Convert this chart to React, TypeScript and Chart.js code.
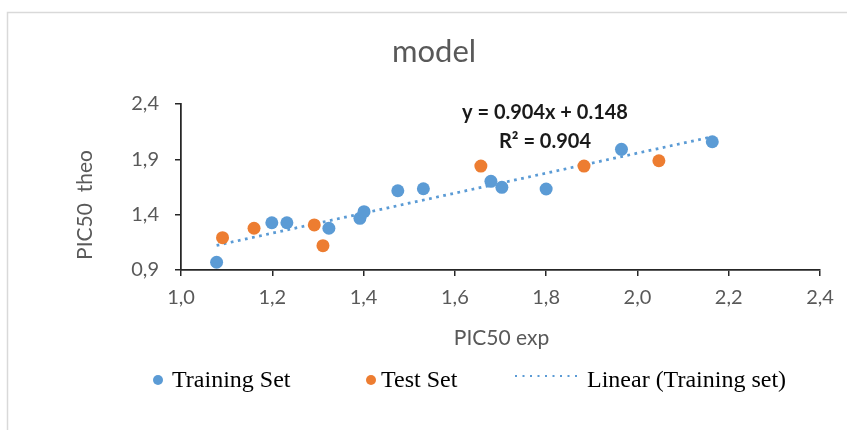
import React, { useEffect, useRef } from 'react';
import { Chart, registerables } from 'chart.js';

Chart.register(...registerables);

// ---- data ----
const chartTitle = 'model';
const xAxisTitle = 'PIC50 exp';
const yAxisTitle = 'PIC50  theo';

const trainingX = [1.078, 1.199, 1.232, 1.324, 1.392, 1.401, 1.475, 1.531, 1.679, 1.703, 1.8, 1.965, 2.164];
const trainingY = [0.97, 1.327, 1.327, 1.277, 1.367, 1.427, 1.616, 1.634, 1.701, 1.647, 1.632, 1.99, 2.059];

const testX = [1.091, 1.16, 1.292, 1.311, 1.657, 1.883, 2.047];
const testY = [1.192, 1.277, 1.307, 1.12, 1.839, 1.839, 1.887];

const trendSlope = [0.904];
const trendIntercept = [0.148];
const equationLines = ['y = 0.904x + 0.148', 'R² = 0.904'];

const xTicks = [1.0, 1.2, 1.4, 1.6, 1.8, 2.0, 2.2, 2.4];
const yTicks = [0.9, 1.4, 1.9, 2.4];

const legendLabels = ['Training Set', 'Test Set', 'Linear (Training set)'];

// ---- styles ----
const BLUE = '#5B9BD5';
const ORANGE = '#ED7D31';
const GRAY_TEXT = '#595959';
const AXIS = '#262626';
const W = 847;
const H = 430;

const fmt = (v: number) => v.toFixed(1).replace('.', ',');

const overlay = {
  id: 'overlay',
  beforeDraw(chart: any) {
    const ctx = chart.ctx;
    ctx.save();
    ctx.fillStyle = '#ffffff';
    ctx.fillRect(0, 0, W, H);
    ctx.strokeStyle = '#d9d9d9';
    ctx.lineWidth = 1.5;
    ctx.beginPath();
    ctx.moveTo(7.5, H);
    ctx.lineTo(7.5, 12.5);
    ctx.lineTo(W, 12.5);
    ctx.stroke();
    ctx.restore();
  },
  afterDraw(chart: any) {
    const ctx = chart.ctx;
    const area = chart.chartArea;
    ctx.save();
    // title
    ctx.fillStyle = GRAY_TEXT;
    ctx.textAlign = 'center';
    ctx.textBaseline = 'middle';
    ctx.font = '31px Lato';
    ctx.fillText(chartTitle, 434, 52);

    // axis titles
    ctx.font = '21px Lato';
    ctx.fillText(xAxisTitle, (area.left + area.right) / 2 + 1, area.bottom + 68);
    ctx.save();
    ctx.translate(85, 205);
    ctx.rotate(-Math.PI / 2);
    ctx.fillText(yAxisTitle, 0, 0);
    ctx.restore();

    // equation
    ctx.fillStyle = '#1a1a1a';
    ctx.font = 'bold 20px Lato';
    ctx.fillText(equationLines[0], 545, 113);
    ctx.fillText(equationLines[1], 545, 142);

    // legend
    const ly = 380;
    ctx.font = '24px "Liberation Serif"';
    ctx.textAlign = 'left';
    ctx.textBaseline = 'alphabetic';
    ctx.fillStyle = BLUE;
    ctx.beginPath();
    ctx.arc(158, ly, 5, 0, Math.PI * 2);
    ctx.fill();
    ctx.fillStyle = '#000000';
    ctx.fillText(legendLabels[0], 172, ly + 7);

    ctx.fillStyle = ORANGE;
    ctx.beginPath();
    ctx.arc(371, ly, 5, 0, Math.PI * 2);
    ctx.fill();
    ctx.fillStyle = '#000000';
    ctx.fillText(legendLabels[1], 381, ly + 7);

    ctx.strokeStyle = BLUE;
    ctx.lineWidth = 2;
    ctx.setLineDash([2, 5.5]);
    ctx.beginPath();
    ctx.moveTo(515, ly - 4);
    ctx.lineTo(580, ly - 4);
    ctx.stroke();
    ctx.setLineDash([]);
    ctx.fillStyle = '#000000';
    ctx.fillText(legendLabels[2], 587, ly + 7);
    ctx.restore();
  },
};

export default function App() {
  const ref = useRef<HTMLCanvasElement | null>(null);

  useEffect(() => {
    document.body.style.margin = '0';
    const canvas = ref.current;
    if (!canvas) return;

    const trendXs = [Math.min(...trainingX), Math.max(...trainingX)];
    const trendData = trendXs.map((x) => ({ x, y: trendSlope[0] * x + trendIntercept[0] }));

    const chart = new Chart(canvas, {
      type: 'scatter',
      data: {
        datasets: [
          {
            label: 'Linear (Training set)',
            type: 'line',
            data: trendData,
            borderColor: BLUE,
            borderWidth: 2.75,
            borderDash: [2.75, 4.5],
            pointRadius: 0,
            fill: false,
            order: 3,
          } as any,
          {
            label: 'Training Set',
            data: trainingX.map((x, i) => ({ x, y: trainingY[i] })),
            backgroundColor: BLUE,
            borderWidth: 0,
            pointRadius: 6.5,
            order: 2,
          },
          {
            label: 'Test Set',
            data: testX.map((x, i) => ({ x, y: testY[i] })),
            backgroundColor: ORANGE,
            borderWidth: 0,
            pointRadius: 6.5,
            order: 1,
          },
        ],
      },
      options: {
        animation: false,
        responsive: false,
        devicePixelRatio: 1,
        layout: { padding: { top: 104, right: 27, left: 0, bottom: 0 } },
        plugins: {
          legend: { display: false },
          title: { display: false },
          tooltip: { enabled: false },
        },
        scales: {
          x: {
            type: 'linear',
            min: xTicks[0],
            max: xTicks[xTicks.length - 1],
            afterBuildTicks: (s: any) => {
              s.ticks = xTicks.map((v) => ({ value: v }));
            },
            afterFit: (s: any) => {
              s.height = 160;
            },
            ticks: {
              callback: (v: any) => fmt(Number(v)),
              color: GRAY_TEXT,
              font: { family: 'Lato', size: 20 },
              padding: 10,
              maxRotation: 0,
              autoSkip: false,
            },
            grid: { drawOnChartArea: false, drawTicks: true, tickLength: 6, color: AXIS, lineWidth: 1.5 },
            border: { display: true, color: AXIS, width: 1.75 },
          },
          y: {
            type: 'linear',
            min: yTicks[0],
            max: yTicks[yTicks.length - 1],
            afterBuildTicks: (s: any) => {
              s.ticks = yTicks.map((v) => ({ value: v }));
            },
            afterFit: (s: any) => {
              s.width = 181;
            },
            ticks: {
              callback: (v: any) => fmt(Number(v)),
              color: GRAY_TEXT,
              font: { family: 'Lato', size: 20 },
              padding: 16,
              autoSkip: false,
            },
            grid: { drawOnChartArea: false, drawTicks: true, tickLength: 6, color: AXIS, lineWidth: 1.5 },
            border: { display: true, color: AXIS, width: 1.75 },
          },
        },
      },
      plugins: [overlay],
    });

    return () => chart.destroy();
  }, []);

  return (
    <div style={{ width: W, height: H, position: 'relative' }}>
      <canvas ref={ref} width={W} height={H} />
    </div>
  );
}
